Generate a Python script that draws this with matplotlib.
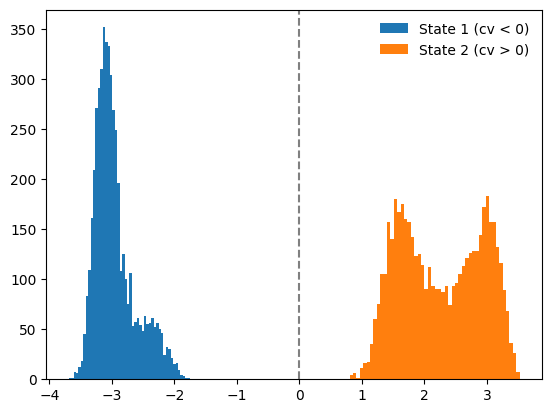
import matplotlib
matplotlib.use("Agg")
import matplotlib.pyplot as plt
import numpy as np

# data range of each state
state1_range = (-3.693, -1.749)
state2_range = (0.803, 3.523)

# counts per bin, 50 bins each
state1_counts = [1, 1, 7, 6, 12, 18, 45, 83, 109, 161,
                 209, 271, 291, 310, 352, 337, 333, 304, 269, 249,
                 196, 108, 125, 100, 75, 106, 53, 57, 61, 54,
                 48, 63, 55, 56, 61, 52, 56, 50, 46, 24,
                 32, 30, 21, 15, 16, 9, 4, 3, 1, 1]
state2_counts = [4, 6, 1, 11, 16, 17, 35, 60, 75, 105,
                 105, 157, 140, 180, 167, 175, 160, 157, 142, 123,
                 125, 114, 90, 112, 93, 90, 90, 87, 93, 74,
                 93, 96, 105, 113, 121, 126, 128, 128, 144, 172,
                 183, 157, 157, 132, 116, 89, 68, 36, 26, 7]

labels = ["State 1 (cv < 0)", "State 2 (cv > 0)"]

fig, ax = plt.subplots(figsize=(6.4, 4.8), dpi=100)

for rng, counts, lab in [(state1_range, state1_counts, labels[0]),
                         (state2_range, state2_counts, labels[1])]:
    edges = np.linspace(rng[0], rng[1], len(counts) + 1)
    centers = (edges[:-1] + edges[1:]) / 2
    ax.hist(centers, bins=edges, weights=counts, label=lab)

ax.axvline(0, color="gray", linestyle="--")
ax.legend(frameon=False)

plt.savefig("out.png", dpi=100, bbox_inches="tight")
